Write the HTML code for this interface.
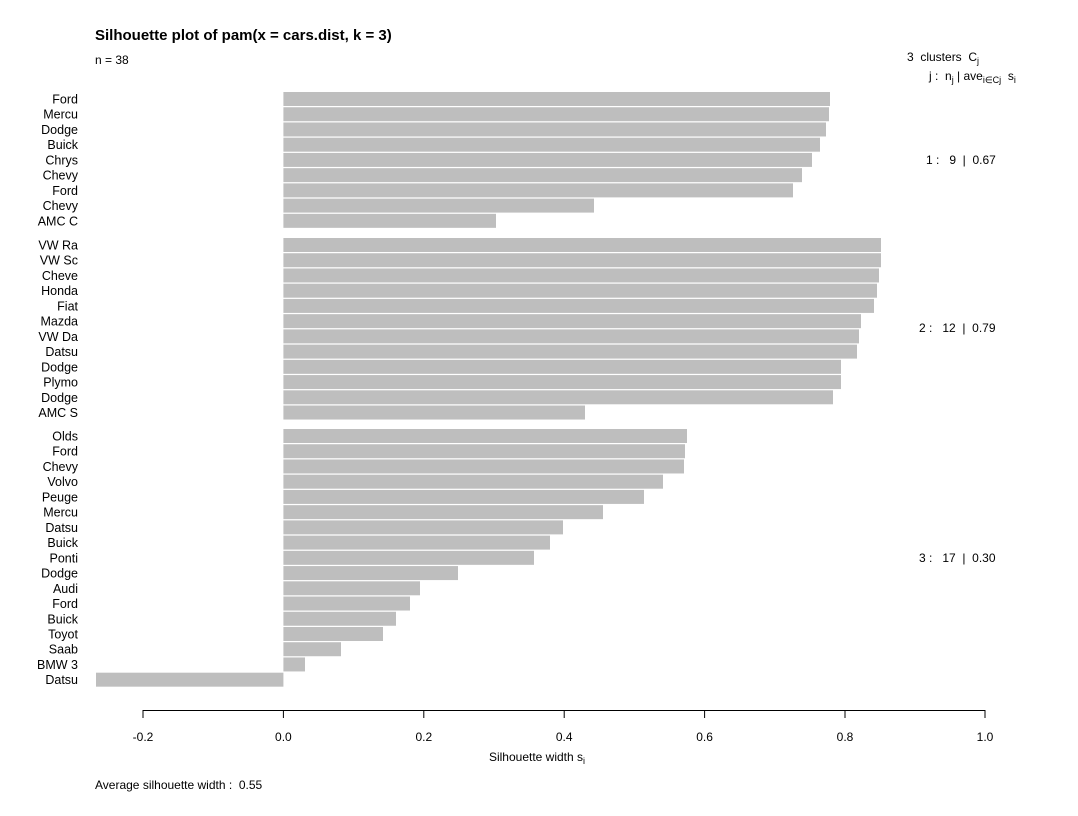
<!DOCTYPE html>
<html><head><meta charset="utf-8"><style>
html,body{margin:0;padding:0;background:#fff}
svg{display:block;font-family:"Liberation Sans",Arial,sans-serif}
svg text{white-space:pre}
</style></head><body>
<svg width="1078" height="816" viewBox="0 0 1078 816" xmlns="http://www.w3.org/2000/svg">
<text x="95" y="40" font-size="15" font-weight="bold">Silhouette plot of pam(x = cars.dist, k = 3)</text>
<text x="95" y="64" font-size="12">n = 38</text>
<text x="907" y="61" font-size="12">3  clusters  C<tspan font-size="9" dy="3">j</tspan></text>
<text x="929" y="80" font-size="12">j :  n<tspan font-size="9" dy="3">j</tspan><tspan dy="-3"> | ave</tspan><tspan font-size="9" dy="3">i∈Cj</tspan><tspan dy="-3">  s</tspan><tspan font-size="9" dy="3">i</tspan></text>
<text x="926" y="164" font-size="12">1 :   9  |  0.67</text>
<text x="919" y="332" font-size="12">2 :   12  |  0.79</text>
<text x="919" y="562" font-size="12">3 :   17  |  0.30</text>
<g id="bars" fill="#bebebe"></g>
<g id="labels" font-size="12.5" text-anchor="end"></g>
<g stroke="#000" stroke-width="1" fill="none">
<line x1="143" y1="710.5" x2="985" y2="710.5"/>
<line x1="143" y1="710" x2="143" y2="718"/>
<line x1="283.4" y1="710" x2="283.4" y2="718"/>
<line x1="423.8" y1="710" x2="423.8" y2="718"/>
<line x1="564.2" y1="710" x2="564.2" y2="718"/>
<line x1="704.6" y1="710" x2="704.6" y2="718"/>
<line x1="845" y1="710" x2="845" y2="718"/>
<line x1="985" y1="710" x2="985" y2="718"/>
</g>
<g font-size="12" text-anchor="middle">
<text x="143" y="741">-0.2</text>
<text x="283.4" y="741">0.0</text>
<text x="423.8" y="741">0.2</text>
<text x="564.2" y="741">0.4</text>
<text x="704.6" y="741">0.6</text>
<text x="845" y="741">0.8</text>
<text x="985" y="741">1.0</text>
<text x="537" y="761">Silhouette width s<tspan font-size="9" dy="3">i</tspan></text>
</g>
<text x="95" y="789" font-size="12">Average silhouette width :  0.55</text>
<script>
var groups=[
[["Ford",830],["Mercu",829],["Dodge",826],["Buick",820],["Chrys",812],["Chevy",802],["Ford",793],["Chevy",594],["AMC C",496]],
[["VW Ra",881],["VW Sc",881],["Cheve",879],["Honda",877],["Fiat",874],["Mazda",861],["VW Da",859],["Datsu",857],["Dodge",841],["Plymo",841],["Dodge",833],["AMC S",585]],
[["Olds",687],["Ford",685],["Chevy",684],["Volvo",663],["Peuge",644],["Mercu",603],["Datsu",563],["Buick",550],["Ponti",534],["Dodge",458],["Audi",420],["Ford",410],["Buick",396],["Toyot",383],["Saab",341],["BMW 3",305],["Datsu",96]]];
var starts=[92,238,429];
var b=document.getElementById('bars'),l=document.getElementById('labels'),ns="http://www.w3.org/2000/svg";
groups.forEach(function(g,gi){g.forEach(function(r,i){
var y=starts[gi]+i*15.23;
var rc=document.createElementNS(ns,'rect');
var x0=283.4,x1=r[1];
rc.setAttribute('x',Math.min(x0,x1));rc.setAttribute('width',Math.abs(x1-x0));
rc.setAttribute('y',y);rc.setAttribute('height',14);b.appendChild(rc);
var t=document.createElementNS(ns,'text');t.setAttribute('x',78);t.setAttribute('y',y+11.5);t.textContent=r[0];l.appendChild(t);
});});
</script>
</svg>
</body></html>
